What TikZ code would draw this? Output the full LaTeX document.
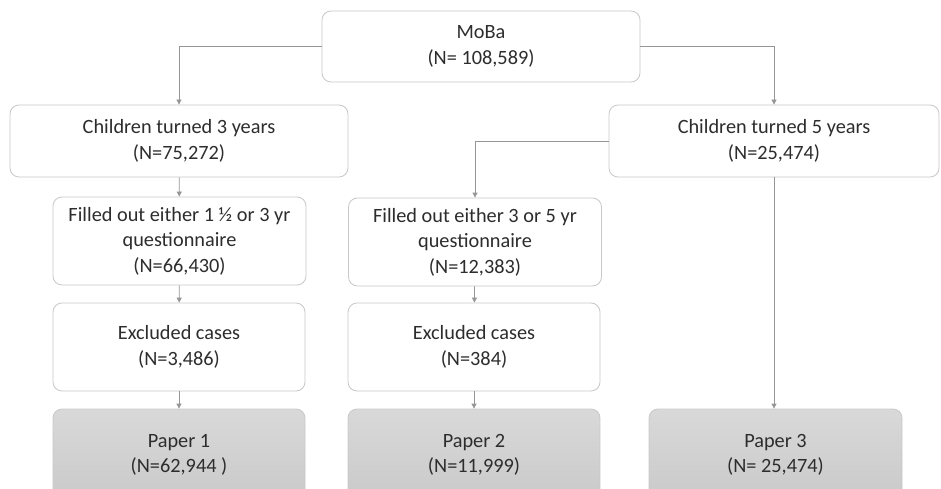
\documentclass[tikz,border=0pt]{standalone}
\usepackage{fontspec}
\setmainfont{Carlito}
\usepackage{tikz}
\usetikzlibrary{positioning,arrows.meta,shapes}

\definecolor{boxline}{RGB}{200,200,200}
\definecolor{connline}{RGB}{150,150,150}
\definecolor{txtgray}{RGB}{45,45,45}

\begin{document}
\begin{tikzpicture}[x=1pt,y=1pt,
    box/.style={draw=boxline,line width=0.8pt,rounded corners=9pt,fill=white,
        align=center,text=txtgray,font=\fontsize{20.3}{25.5}\selectfont,inner sep=0pt},
    paper/.style={box,top color=black!15,bottom color=black!21},
    conn/.style={draw=connline,line width=0.8pt,-{Triangle[width=5pt,length=5pt]}}]
    % Draw page frame
    \useasboundingbox (0,0) rectangle (941,-489);
    \clip (0,0) rectangle (941,-489);

    % Draw top box
    \node[box,minimum width=318,minimum height=71] (moba) at (481,-46.5) {MoBa\\(N= 108,589)};

    % Draw second row
    \node[box,minimum width=338,minimum height=72] (kids3) at (179,-141) {Children turned 3 years\\(N=75,272)};
    \node[box,minimum width=330,minimum height=72] (kids5) at (774,-141) {Children turned 5 years\\(N=25,474)};

    % Draw questionnaire boxes
    \node[box,minimum width=253,minimum height=88] (fill3) at (179.5,-241) {Filled out either 1 ½ or 3 yr\\questionnaire\\(N=66,430)};
    \node[box,minimum width=253,minimum height=88] (fill5) at (475,-242) {Filled out either 3 or 5 yr\\questionnaire\\(N=12,383)};

    % Draw exclusion boxes
    \node[box,minimum width=252,minimum height=88] (excl3) at (179,-347) {Excluded cases\\(N=3,486)};
    \node[box,minimum width=252,minimum height=88] (excl5) at (474,-347) {Excluded cases\\(N=384)};

    % Draw paper boxes
    \node[paper,minimum width=252,minimum height=92] (paper1) at (179,-455) {Paper 1\\(N=62,944 )};
    \node[paper,minimum width=252,minimum height=92] (paper2) at (474,-455) {Paper 2\\(N=11,999)};
    \node[paper,minimum width=253,minimum height=92] (paper3) at (775.5,-455) {Paper 3\\(N= 25,474)};

    % Draw connectors
    \draw[conn] (moba.west) -| (kids3.north);
    \draw[conn] (moba.east) -| (kids5.north);
    \draw[conn] (kids5.west) -| (fill5.north);
    \draw[conn] (kids3) -- (fill3);
    \draw[conn] (fill3) -- (excl3);
    \draw[conn] (excl3) -- (paper1);
    \draw[conn] (fill5) -- (excl5);
    \draw[conn] (excl5) -- (paper2);
    \draw[conn] (kids5.south) -- (kids5.south |- paper3.north);
\end{tikzpicture}
\end{document}
